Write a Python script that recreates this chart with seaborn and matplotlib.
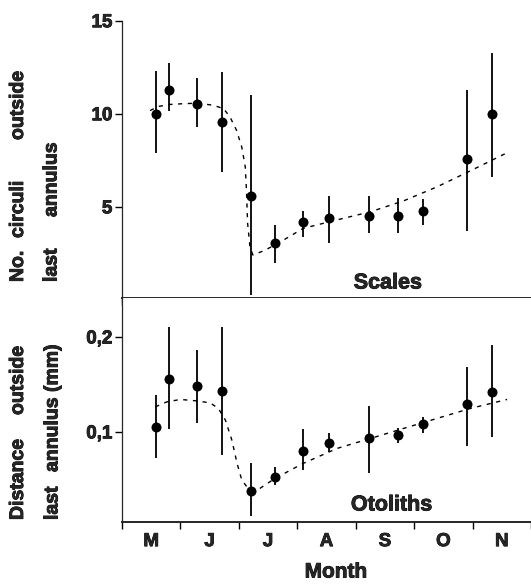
import matplotlib
matplotlib.use("Agg")
import matplotlib.pyplot as plt
import matplotlib.patheffects as pe
from matplotlib.text import Text
import seaborn as sns

# sampling dates, in months after 1 May
month_pos = [0.59, 0.80, 1.29, 1.71, 2.21, 2.62, 3.09, 3.55, 4.23, 4.72, 5.15, 5.90, 6.34]

# scales: number of circuli outside last annulus
scales_mean = [10.0, 11.29, 10.54, 9.57, 5.57, 3.04, 4.16, 4.38, 4.52, 4.52, 4.75, 7.55, 9.96]
scales_lo = [7.87, 10.14, 9.30, 6.89, 0.27, 1.97, 3.39, 3.04, 3.57, 3.57, 4.02, 3.68, 6.61]
scales_hi = [12.29, 12.71, 11.91, 12.23, 11.03, 4.02, 4.80, 5.56, 5.56, 5.49, 5.43, 11.25, 13.27]
scales_fit_x = [0.48, 0.62, 0.82, 1.05, 1.31, 1.57, 1.74, 1.85, 1.96, 2.05, 2.11, 2.13,
                2.15, 2.19, 2.24, 2.42, 2.65, 3.10, 3.67, 4.25, 4.82, 5.39, 5.96, 6.62]
scales_fit_y = [10.17, 10.39, 10.50, 10.54, 10.57, 10.45, 10.27, 9.82, 9.11, 8.21, 7.14, 5.89,
                4.11, 2.86, 2.41, 2.63, 3.00, 3.84, 4.29, 4.73, 5.32, 6.07, 6.93, 7.95]

# otoliths: distance outside last annulus (mm)
oto_mean = [0.1046, 0.1557, 0.1479, 0.1432, 0.0381, 0.0526, 0.0797, 0.0884, 0.0935, 0.0965, 0.1084, 0.1288, 0.1418]
oto_lo = [0.0726, 0.1025, 0.1095, 0.0755, 0.0109, 0.0439, 0.0597, 0.0789, 0.0568, 0.0884, 0.0983, 0.0852, 0.0942]
oto_hi = [0.1386, 0.2100, 0.1867, 0.2100, 0.0674, 0.0630, 0.1025, 0.0987, 0.1270, 0.1043, 0.1158, 0.1684, 0.1913]
oto_fit_x = [0.57, 0.77, 1.00, 1.28, 1.51, 1.65, 1.77, 1.88, 1.97, 2.05, 2.18, 2.36, 2.62,
             3.10, 3.68, 4.25, 4.82, 5.39, 5.96, 6.59]
oto_fit_y = [0.1263, 0.1316, 0.1341, 0.1326, 0.1305, 0.1246, 0.1123, 0.0913, 0.0667, 0.0492,
             0.0386, 0.0404, 0.0510, 0.0667, 0.0825, 0.0930, 0.1036, 0.1141, 0.1246, 0.1341]

month_labels = ["M", "J", "J", "A", "S", "O", "N"]

sns.set_style("ticks")
plt.rcParams["font.family"] = ["Liberation Sans", "DejaVu Sans"]
plt.rcParams["font.weight"] = "bold"

W, H = 531, 585
fig = plt.figure(figsize=(W / 100, H / 100), dpi=100)

def px_box(x0, y0, x1, y1):
    return [x0 / W, 1 - y1 / H, (x1 - x0) / W, (y1 - y0) / H]

ax1 = fig.add_axes(px_box(122, 20.7, 531, 298))
ax2 = fig.add_axes(px_box(122, 298, 531, 522))

def panel(ax, mean, lo, hi, fx, fy):
    ax.vlines(month_pos, lo, hi, color="black", lw=1.3, zorder=2)
    sns.lineplot(x=fx, y=fy, ax=ax, color="black", lw=1.0, sort=False,
                 linestyle=(0, (3, 4)), zorder=3)
    sns.scatterplot(x=month_pos, y=mean, ax=ax, color="black", s=52,
                    edgecolor="black", linewidth=0, zorder=4)
    ax.set_xlim(0, 7)
    ax.set_xticks(range(8))
    for side in ["top", "right"]:
        ax.spines[side].set_visible(False)
    ax.spines["left"].set_linewidth(0.9)
    ax.spines["bottom"].set_linewidth(1.4)
    ax.tick_params(axis="both", direction="out", length=5, width=1.0,
                   labelsize=13.5, pad=2, color="black")
    ax.set_xlabel("")
    ax.set_ylabel("")

panel(ax1, scales_mean, scales_lo, scales_hi, scales_fit_x, scales_fit_y)
ax1.set_ylim(0.1, 15)
ax1.set_yticks([5, 10, 15])
ax1.set_yticklabels(["5", "10", "15"])
ax1.set_xticklabels([])
ax1.text(0.650, 0.054, "Scales", transform=ax1.transAxes, ha="center",
         va="center", fontsize=15.5, fontweight="bold")

panel(ax2, oto_mean, oto_lo, oto_hi, oto_fit_x, oto_fit_y)
ax2.set_ylim(0.005, 0.241)
ax2.set_yticks([0.1, 0.2])
ax2.set_yticklabels(["0,1", "0,2"])
ax2.set_xticks([i + 0.5 for i in range(7)], minor=True)
ax2.set_xticklabels([])
ax2.set_xticklabels(month_labels, minor=True)
ax2.tick_params(axis="x", which="minor", length=0, pad=8, labelsize=13.5)
ax2.text(0.659, 0.076, "Otoliths", transform=ax2.transAxes, ha="center",
         va="center", fontsize=15.5, fontweight="bold")

fig.text(336 / W, 1 - 572 / H, "Month", ha="center", va="center",
         fontsize=15, fontweight="bold")

# y labels, word by word as in the print
words = [
    (18.5, 282, "No."), (18.5, 238, "circuli"), (18.5, 140, "outside"),
    (52, 282, "last"), (52, 217, "annulus"),
    (18.5, 520, "Distance"), (18.5, 415, "outside"),
    (53, 520, "last"), (53, 472, "annulus"), (53, 392, "(mm)"),
]
for x, y, w in words:
    fig.text(x / W, 1 - y / H, w, rotation=90, rotation_mode="anchor",
             ha="left", va="center", fontsize=14, fontweight="bold")

# the print has heavy type: thicken all the text a little
for t in fig.findobj(Text):
    t.set_path_effects([pe.withStroke(linewidth=0.6, foreground="black")])

fig.savefig("out.png", dpi=100)
